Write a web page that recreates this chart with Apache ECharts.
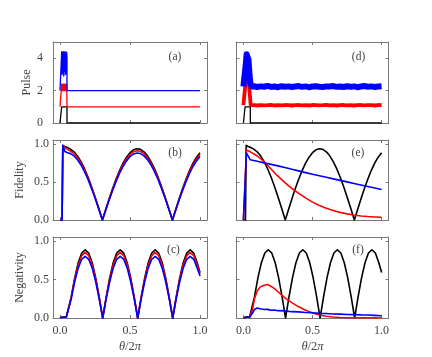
<!DOCTYPE html>
<html>
<head>
<meta charset="utf-8">
<script src="https://cdn.jsdelivr.net/npm/echarts@6/dist/echarts.min.js"></script>
<style>
html, body { margin: 0; padding: 0; background: #fff; }
#chart { width: 432px; height: 357px; }
</style>
</head>
<body>
<div id="chart"></div>
<script>
// pulse panels (a), (d)
const pulseX = [0, 0.012, 0.012, 0.05, 0.05, 1.0];
const pulseBlack = [0, 0, 1, 1, 0, 0];
const pulseColX = [0, 0.012, 0.012, 0.015, 0.018, 0.021, 0.024, 0.027, 0.030, 0.033, 0.036, 0.039, 0.042, 0.045, 0.048, 0.05, 0.05, 1.0];
const pulseRed = [1, 1, 2.4, 2.0, 2.4, 2.0, 2.4, 2.0, 2.4, 2.0, 2.4, 2.0, 2.4, 2.0, 2.4, 2.4, 1, 1];
const pulseBlue = [2, 2, 4.4, 3.0, 4.35, 3.1, 4.4, 2.9, 4.4, 3.2, 4.3, 3.0, 4.4, 3.1, 4.35, 4.0, 2, 2];

const noisyRedHeadX = [0, 0.012, 0.014, 0.025, 0.04, 0.05, 0.053];
const noisyRedHead = [1.1, 1.1, 2.35, 2.5, 2.4, 2.3, 1.1];
const noisyBlueHeadX = [0, 0.012, 0.017, 0.023, 0.03, 0.037, 0.044, 0.05, 0.058];
const noisyBlueHead = [2.25, 2.25, 3.6, 4.25, 4.35, 3.9, 3.0, 2.5, 2.26];
const bandX = [0.075, 0.1, 0.125, 0.15, 0.175, 0.2, 0.225, 0.25, 0.275, 0.3, 0.325, 0.35, 0.375, 0.4, 0.425, 0.45, 0.475, 0.5, 0.525, 0.55, 0.575, 0.6, 0.625, 0.65, 0.675, 0.7, 0.725, 0.75, 0.775, 0.8, 0.825, 0.85, 0.875, 0.9, 0.925, 0.95, 0.975, 1.0];
const bandBlue = [2.27, 2.22, 2.26, 2.24, 2.29, 2.23, 2.25, 2.21, 2.27, 2.24, 2.26, 2.22, 2.25, 2.28, 2.23, 2.26, 2.21, 2.25, 2.27, 2.24, 2.22, 2.26, 2.25, 2.28, 2.23, 2.25, 2.22, 2.27, 2.24, 2.26, 2.21, 2.25, 2.28, 2.24, 2.26, 2.22, 2.25, 2.27];
const bandRed = [1.1, 1.08, 1.11, 1.09, 1.1, 1.12, 1.08, 1.1, 1.09, 1.11, 1.1, 1.08, 1.1, 1.11, 1.09, 1.1, 1.08, 1.11, 1.1, 1.09, 1.1, 1.12, 1.09, 1.1, 1.08, 1.1, 1.11, 1.09, 1.1, 1.08, 1.1, 1.11, 1.09, 1.1, 1.1, 1.08, 1.11, 1.1];

// fidelity panels (b), (e)
const fidX = [0, 0.015, 0.02, 0.035, 0.05, 0.075, 0.1, 0.125, 0.15, 0.175, 0.2, 0.225, 0.25, 0.275, 0.303, 0.325, 0.35, 0.375, 0.4, 0.425, 0.45, 0.475, 0.5, 0.525, 0.55, 0.575, 0.6, 0.625, 0.65, 0.675, 0.7, 0.725, 0.75, 0.775, 0.803, 0.825, 0.85, 0.875, 0.9, 0.925, 0.95, 0.975, 1.0];
const fidBlack = [0, 0, 0.98, 0.965, 0.955, 0.93, 0.895, 0.84, 0.767, 0.673, 0.564, 0.44, 0.306, 0.164, 0, 0.129, 0.272, 0.409, 0.535, 0.649, 0.746, 0.825, 0.884, 0.921, 0.935, 0.927, 0.895, 0.842, 0.767, 0.674, 0.564, 0.44, 0.306, 0.164, 0, 0.129, 0.272, 0.409, 0.535, 0.649, 0.746, 0.825, 0.884];
const fidRed = [0, 0, 0.975, 0.95, 0.93, 0.905, 0.871, 0.818, 0.746, 0.655, 0.549, 0.429, 0.298, 0.159, 0, 0.126, 0.265, 0.398, 0.521, 0.632, 0.726, 0.803, 0.86, 0.896, 0.91, 0.902, 0.871, 0.819, 0.746, 0.656, 0.549, 0.429, 0.298, 0.159, 0, 0.126, 0.265, 0.398, 0.521, 0.632, 0.726, 0.803, 0.86];
const fidBlue = [0, 0, 0.98, 0.9, 0.885, 0.871, 0.842, 0.791, 0.722, 0.634, 0.531, 0.414, 0.288, 0.154, 0, 0.121, 0.256, 0.385, 0.503, 0.611, 0.702, 0.776, 0.832, 0.867, 0.88, 0.872, 0.842, 0.792, 0.722, 0.634, 0.531, 0.414, 0.288, 0.154, 0, 0.121, 0.256, 0.385, 0.503, 0.611, 0.702, 0.776, 0.832];
const decX = [0, 0.008, 0.022, 0.05, 0.1, 0.15, 0.2, 0.25, 0.3, 0.35, 0.4, 0.45, 0.5, 0.55, 0.6, 0.65, 0.7, 0.75, 0.8, 0.85, 0.9, 0.95, 1.0];
const decRed = [0, 0, 0.92, 0.895, 0.84, 0.765, 0.67, 0.575, 0.49, 0.415, 0.35, 0.29, 0.235, 0.19, 0.155, 0.125, 0.1, 0.08, 0.065, 0.053, 0.045, 0.04, 0.036];
const decBlue = [0, 0, 0.88, 0.79, 0.77, 0.75, 0.73, 0.71, 0.69, 0.667, 0.645, 0.622, 0.6, 0.58, 0.56, 0.54, 0.52, 0.5, 0.48, 0.46, 0.44, 0.42, 0.4];

// negativity panels (c), (f)
const negX = [0, 0.02, 0.045, 0.055, 0.08, 0.105, 0.13, 0.155, 0.18, 0.205, 0.23, 0.255, 0.28, 0.305, 0.33, 0.355, 0.38, 0.405, 0.43, 0.455, 0.48, 0.505, 0.53, 0.555, 0.58, 0.605, 0.63, 0.655, 0.68, 0.705, 0.73, 0.755, 0.78, 0.805, 0.83, 0.855, 0.88, 0.905, 0.93, 0.955, 0.98, 1.0];
const negBlack = [0, 0.015, 0.015, 0,
  0.273, 0.52, 0.716, 0.842, 0.885, 0.842, 0.716, 0.52, 0.273, 0,
  0.273, 0.52, 0.716, 0.842, 0.885, 0.842, 0.716, 0.52, 0.273, 0,
  0.273, 0.52, 0.716, 0.842, 0.885, 0.842, 0.716, 0.52, 0.273, 0,
  0.273, 0.52, 0.716, 0.842, 0.885, 0.842, 0.716, 0.59];
const negRed = [0, 0.012, 0.012, 0,
  0.263, 0.5, 0.688, 0.808, 0.85, 0.808, 0.688, 0.5, 0.263, 0,
  0.263, 0.5, 0.688, 0.808, 0.85, 0.808, 0.688, 0.5, 0.263, 0,
  0.263, 0.5, 0.688, 0.808, 0.85, 0.808, 0.688, 0.5, 0.263, 0,
  0.263, 0.5, 0.688, 0.808, 0.85, 0.808, 0.688, 0.57];
const negBlue = [0, 0.01, 0.01, 0,
  0.247, 0.47, 0.647, 0.761, 0.8, 0.761, 0.647, 0.47, 0.247, 0,
  0.247, 0.47, 0.647, 0.761, 0.8, 0.761, 0.647, 0.47, 0.247, 0,
  0.247, 0.47, 0.647, 0.761, 0.8, 0.761, 0.647, 0.47, 0.247, 0,
  0.247, 0.47, 0.647, 0.761, 0.8, 0.761, 0.647, 0.545];
const entX = [0, 0.02, 0.045, 0.05, 0.065, 0.08, 0.1, 0.12, 0.15, 0.175, 0.2, 0.225, 0.25, 0.3, 0.35, 0.4, 0.45, 0.5, 0.55, 0.6, 0.65, 0.7, 0.75, 0.8, 0.85, 0.9, 0.95, 1.0];
const entRed = [0, 0.01, 0.01, 0, 0.1, 0.25, 0.35, 0.4, 0.425, 0.435, 0.41, 0.38, 0.34, 0.26, 0.2, 0.145, 0.1, 0.065, 0.04, 0.022, 0.012, 0.007, 0.004, 0.003, 0.002, 0.001, 0.001, 0];
const entBlue = [0, 0.01, 0.01, 0, 0.06, 0.11, 0.13, 0.12, 0.11, 0.112, 0.1, 0.103, 0.095, 0.092, 0.082, 0.08, 0.072, 0.068, 0.06, 0.058, 0.052, 0.05, 0.046, 0.044, 0.04, 0.038, 0.034, 0.03];

const xTicks = [0, 0.5, 1.0];
const pulseTicks = [0, 2, 4];
const unitTicks = [0, 0.5, 1.0];
const panelNames = ['(a)', '(b)', '(c)', '(d)', '(e)', '(f)'];

function pts(xs, ys) { return xs.map((x, i) => [x, ys[i]]); }

const FONT = 'Liberation Serif';
const TXT = '#444';
const FRAME = '#7a7a7a';

const lefts = [53, 236.5];
const widths = [154, 152];
const tops = [42, 140, 237];
const heights = [81, 80, 81];

const panels = [
  { col: 0, row: 0, ymax: 5, yt: pulseTicks, yname: 'Pulse', lines: [
    [pulseX, pulseBlack, '#000', 1.3], [pulseColX, pulseRed, '#ff0000', 1.3], [pulseColX, pulseBlue, '#0000ff', 1.3]] },
  { col: 0, row: 1, ymax: 1.05, yt: unitTicks, yname: 'Fidelity', lines: [
    [fidX, fidBlack, '#000', 1.6], [fidX, fidRed, '#ff0000', 1.6], [fidX, fidBlue, '#0000ff', 1.6]] },
  { col: 0, row: 2, ymax: 1.05, yt: unitTicks, yname: 'Negativity', lines: [
    [negX, negBlack, '#000', 1.6], [negX, negRed, '#ff0000', 1.6], [negX, negBlue, '#0000ff', 1.6]] },
  { col: 1, row: 0, ymax: 5, yt: pulseTicks, lines: [
    [pulseX, pulseBlack, '#000', 1.3],
    [noisyRedHeadX.concat(bandX), noisyRedHead.concat(bandRed), '#ff0000', 3.8],
    [noisyBlueHeadX.concat(bandX), noisyBlueHead.concat(bandBlue), '#0000ff', 6]] },
  { col: 1, row: 1, ymax: 1.05, yt: unitTicks, lines: [
    [fidX, fidBlack, '#000', 1.6], [decX, decRed, '#ff0000', 1.6], [decX, decBlue, '#0000ff', 1.6]] },
  { col: 1, row: 2, ymax: 1.05, yt: unitTicks, lines: [
    [negX, negBlack, '#000', 1.6], [entX, entRed, '#ff0000', 1.6], [entX, entBlue, '#0000ff', 1.6]] }
];

const grid = [], xAxis = [], yAxis = [], series = [], graphic = [];
panels.forEach((p, i) => {
  const left = lefts[p.col], top = tops[p.row];
  grid.push({ left: left, top: top, width: widths[p.col], height: heights[p.row] });
  const bottomRow = p.row === 2, leftCol = p.col === 0, isPulse = p.row === 0;
  ['bottom', 'top'].forEach(pos => {
    const main = pos === 'bottom';
    xAxis.push({
      type: 'value', gridIndex: i, position: pos, min: -0.05, max: 1.05,
      axisLine: { show: true, onZero: false, lineStyle: { color: FRAME, width: 1 } },
      axisTick: { show: true, inside: true, length: 3, customValues: xTicks, lineStyle: { color: FRAME } },
      axisLabel: { show: main && bottomRow, customValues: xTicks, margin: 7, color: TXT, fontFamily: FONT, fontSize: 12,
        formatter: v => v.toFixed(1) },
      splitLine: { show: false },
      name: main && bottomRow ? '{i|θ}/2{i|π}' : '', nameLocation: 'middle', nameGap: 22,
      nameTextStyle: { color: TXT, fontFamily: FONT, fontSize: 12.5, rich: { i: { fontStyle: 'italic', fontFamily: FONT, fontSize: 12.5, color: TXT } } }
    });
  });
  ['left', 'right'].forEach(pos => {
    const main = pos === 'left';
    yAxis.push({
      type: 'value', gridIndex: i, position: pos, min: 0, max: p.ymax,
      axisLine: { show: true, onZero: false, lineStyle: { color: FRAME, width: 1 } },
      axisTick: { show: true, inside: true, length: 3, customValues: p.yt, lineStyle: { color: FRAME } },
      axisLabel: { show: main && leftCol, customValues: p.yt, margin: isPulse ? 10 : 4, color: TXT, fontFamily: FONT, fontSize: 12,
        formatter: v => isPulse ? String(v) : v.toFixed(1) },
      splitLine: { show: false },
      name: main && leftCol ? p.yname : '', nameLocation: 'middle', nameRotate: 90, nameGap: isPulse ? 17 : 27,
      nameTextStyle: { color: TXT, fontFamily: FONT, fontSize: 12 }
    });
  });
  p.lines.forEach(l => {
    series.push({
      type: 'line', xAxisIndex: i * 2, yAxisIndex: i * 2, data: pts(l[0], l[1]),
      showSymbol: false, symbol: 'none', animation: false, silent: true,
      lineStyle: { color: l[2], width: l[3], join: 'round' }
    });
  });
});

const labelPos = [[175, 57], [175, 153], [173.5, 249.5], [358.5, 57], [358, 153], [358, 250]];
panels.forEach((p, i) => {
  const k = p.col * 3 + p.row;
  graphic.push({ type: 'text', x: labelPos[k][0], y: labelPos[k][1],
    style: { text: panelNames[k], fill: TXT, font: '11.5px "Liberation Serif"', align: 'center', verticalAlign: 'middle' } });
});

const chart = echarts.init(document.getElementById('chart'), null, { renderer: 'canvas' });
chart.setOption({ animation: false, backgroundColor: '#fff', grid, xAxis, yAxis, series, graphic });
</script>
</body>
</html>
